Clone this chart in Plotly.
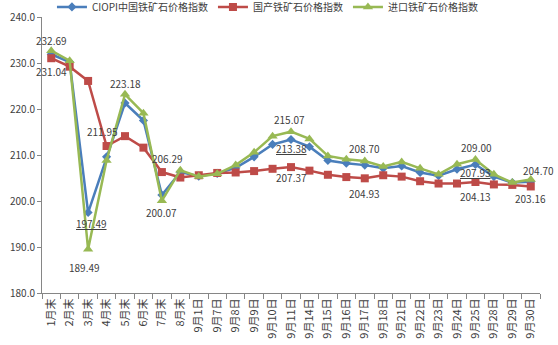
import plotly.graph_objects as go

categories = ["1月末", "2月末", "3月末", "4月末", "5月末", "6月末", "7月末", "8月末",
              "9月1日", "9月7日", "9月8日", "9月9日", "9月10日", "9月11日", "9月14日",
              "9月15日", "9月16日", "9月17日", "9月18日", "9月21日", "9月22日", "9月23日",
              "9月24日", "9月25日", "9月28日", "9月29日", "9月30日"]

ciopi = [231.9, 230.2, 197.49, 209.6, 221.3, 217.5, 201.3, 206.3,
         205.4, 206.0, 207.2, 209.6, 212.3, 213.38, 211.8,
         208.8, 208.2, 207.8, 207.1, 207.6, 206.2, 205.5,
         206.9, 207.93, 205.3, 204.0, 204.2]

domestic = [231.04, 229.2, 226.1, 211.95, 214.1, 211.6, 206.29, 205.1,
            205.6, 206.1, 206.2, 206.5, 207.0, 207.37, 206.6,
            205.7, 205.2, 204.93, 205.6, 205.3, 204.3, 203.8,
            203.8, 204.13, 203.6, 203.5, 203.16]

imported = [232.69, 230.5, 189.49, 208.8, 223.18, 219.1, 200.07, 206.7,
            205.3, 205.9, 207.8, 210.6, 214.1, 215.07, 213.5,
            209.8, 209.1, 208.70, 207.5, 208.5, 207.1, 205.8,
            208.0, 209.00, 205.8, 204.0, 204.70]

names = ["CIOPI中国铁矿石价格指数", "国产铁矿石价格指数", "进口铁矿石价格指数"]
colors = ["#4A7EBB", "#BE4B48", "#98B954"]
symbols = ["diamond", "square", "triangle-up"]
sizes = [7, 8, 9]

# value labels: (series, category index, vertical px offset, horizontal px offset, underline)
labels = [
    (imported, 0, 10, 0, False),
    (domestic, 0, -13, 0, False),
    (ciopi, 2, -11, 3, True),
    (imported, 2, -18, -4, False),
    (domestic, 3, 15, -4, False),
    (imported, 4, 11, 0, False),
    (domestic, 6, 14, 6, False),
    (imported, 6, -12, 0, False),
    (imported, 13, 12, -2, False),
    (ciopi, 13, -9, 0, True),
    (domestic, 13, -10, 0, False),
    (imported, 17, 12, 0, False),
    (domestic, 17, -15, 0, False),
    (imported, 23, 12, 1, False),
    (ciopi, 23, -8, 0, True),
    (domestic, 23, -14, 0, False),
    (imported, 26, 9, 8, False),
    (domestic, 26, -12, 0, False),
]

fig = go.Figure()
for vals, name, color, sym, sz in zip([ciopi, domestic, imported], names, colors, symbols, sizes):
    fig.add_trace(go.Scatter(
        x=categories, y=vals, name=name, mode="lines+markers",
        line=dict(color=color, width=2.5),
        marker=dict(symbol=sym, size=sz, color=color),
    ))

for vals, i, dy, dx, ul in labels:
    txt = f"{vals[i]:.2f}"
    if ul:
        txt = f"<u>{txt}</u>"
    fig.add_annotation(x=categories[i], y=vals[i], text=txt, showarrow=False,
                       yshift=dy, xshift=dx,
                       font=dict(size=10, color="#404040"))

fig.update_layout(
    width=558, height=345,
    margin=dict(l=42, r=18, t=17, b=52, autoexpand=False),
    paper_bgcolor="white", plot_bgcolor="white",
    font=dict(family="Noto Sans CJK SC, sans-serif", color="#404040", size=10),
    showlegend=True,
    legend=dict(orientation="h", x=0.02, xanchor="left",
                yref="container", y=0.98, yanchor="middle",
                font=dict(size=10, color="#404040"), itemwidth=30,
                bgcolor="rgba(0,0,0,0)", tracegroupgap=0),
    xaxis=dict(type="category", tickangle=-90, showline=True, linecolor="#868686",
               linewidth=1, ticks="outside", tickson="boundaries", ticklen=5,
               tickcolor="#868686", showgrid=False, tickfont=dict(size=11),
               range=[-0.5, 26.5], automargin=False),
    yaxis=dict(range=[180, 240], dtick=10, tickformat=".1f", showline=True,
               linecolor="#868686", linewidth=1, ticks="outside", ticklen=4,
               tickcolor="#868686", showgrid=False, zeroline=False,
               tickfont=dict(size=10), automargin=False),
)

fig.write_html("out.html")
